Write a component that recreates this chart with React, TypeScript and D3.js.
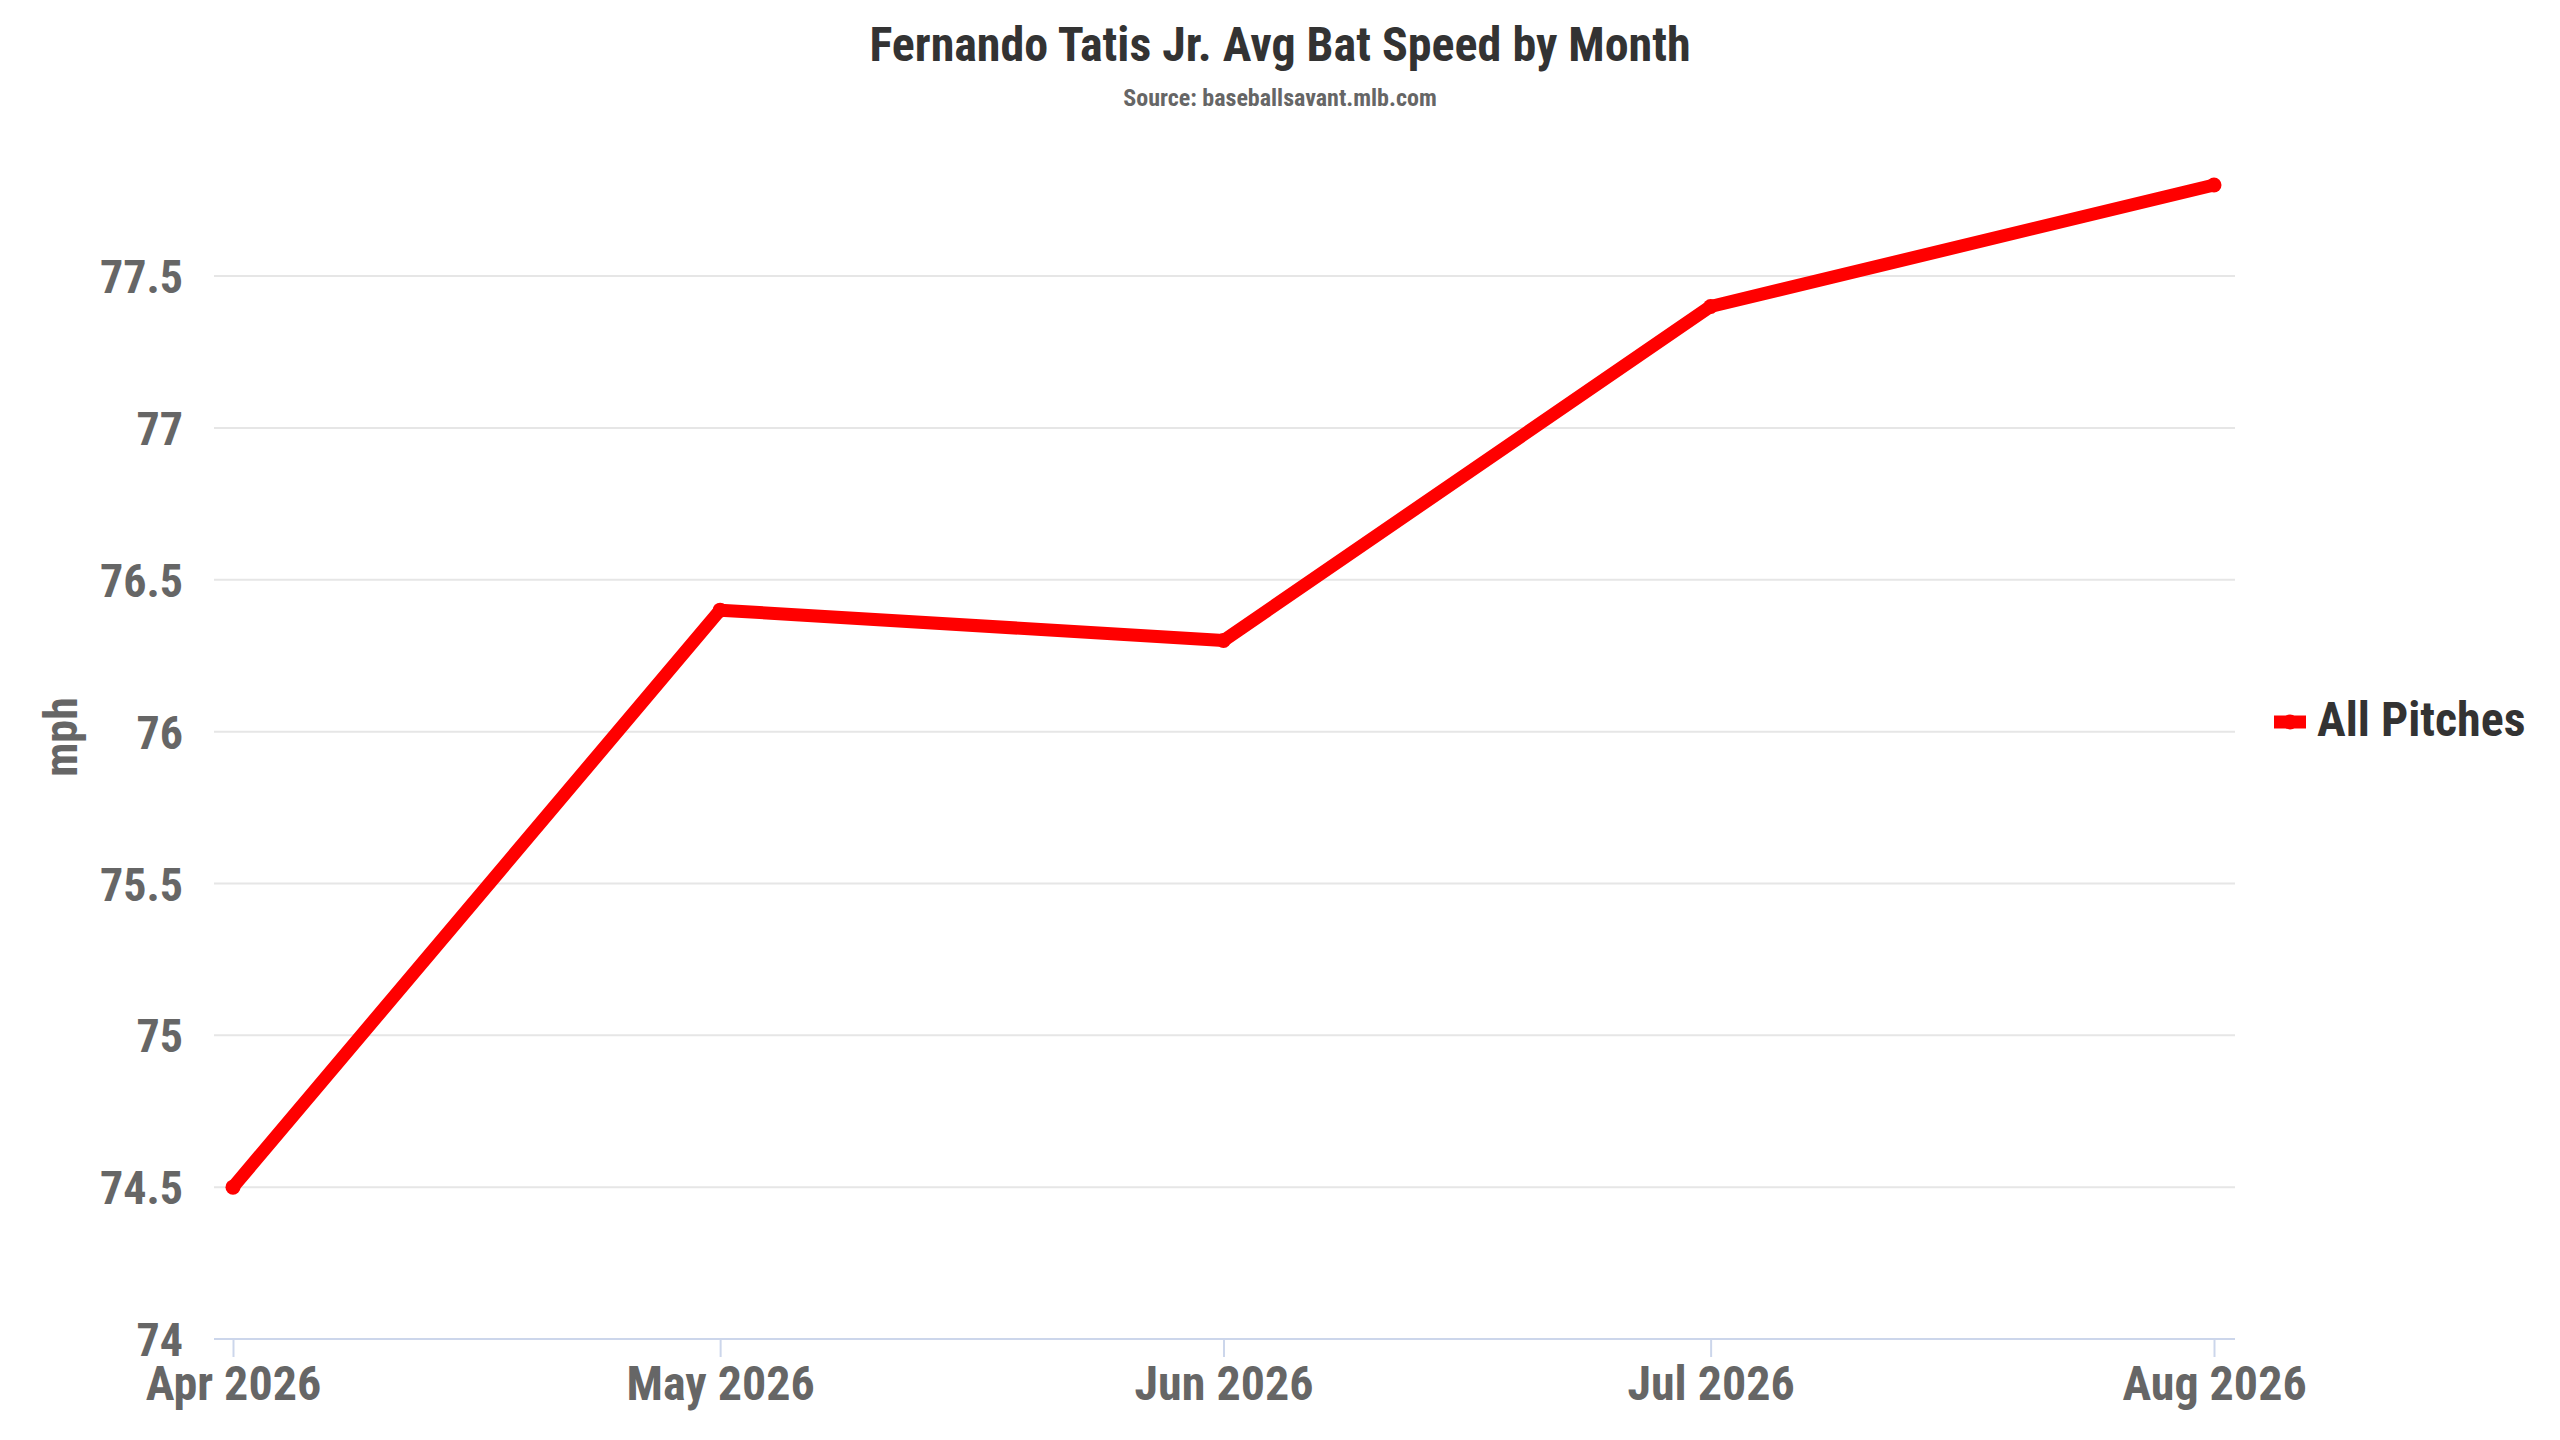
import React, { useEffect, useRef } from "react";
import * as d3 from "d3";

// chart values
const months = ["2026-04-01", "2026-05-01", "2026-06-01", "2026-07-01", "2026-08-01"];
const monthLabels = ["Apr 2026", "May 2026", "Jun 2026", "Jul 2026", "Aug 2026"];
const batSpeed = [74.5, 76.4, 76.3, 77.4, 77.8];
const yTicks = [74, 74.5, 75, 75.5, 76, 76.5, 77, 77.5];
const seriesName = "All Pitches";

const FONT = "'Roboto Condensed', 'Liberation Sans Narrow', 'DejaVu Sans Condensed', Roboto, sans-serif";

export default function App() {
  const svgRef = useRef(null);

  useEffect(() => {
    const W = 2560;
    const H = 1440;
    const plot = { left: 214, right: 2235, top: 185, bottom: 1339 };

    const svg = d3.select(svgRef.current)
      .attr("width", W)
      .attr("height", H)
      .style("font-family", FONT);

    const dates = months.map((m) => d3.utcParse("%Y-%m-%d")(m));
    const data = dates.map((d, i) => ({ date: d, value: batSpeed[i] }));

    // time scale so month spacing follows day counts
    const xScale = d3.scaleUtc()
      .domain(d3.extent(dates))
      .range([233, 2214]);

    const yScale = d3.scaleLinear()
      .domain([74, 77.8])
      .range([plot.bottom, plot.top]);

    // horizontal grid lines
    svg.append("g")
      .selectAll("line")
      .data(yTicks.filter((t) => t !== 74))
      .join("line")
      .attr("x1", plot.left)
      .attr("x2", plot.right)
      .attr("y1", (d) => yScale(d))
      .attr("y2", (d) => yScale(d))
      .attr("stroke", "#e6e6e6")
      .attr("stroke-width", 2);

    // y axis labels
    const yAxis = svg.append("g")
      .attr("transform", `translate(${plot.left},0)`)
      .call(d3.axisLeft(yScale).tickValues(yTicks).tickSize(0).tickPadding(31).tickFormat((d) => String(d)));
    yAxis.select(".domain").remove();
    yAxis.selectAll("text")
      .attr("dy", "0.36em")
      .style("font-family", FONT)
      .style("font-size", "46px")
      .style("font-weight", "bold")
      .attr("fill", "#666666");

    // x axis
    const xAxis = svg.append("g")
      .attr("transform", `translate(0,${plot.bottom})`)
      .call(
        d3.axisBottom(xScale)
          .tickValues(dates)
          .tickSize(18)
          .tickPadding(9)
          .tickFormat((d, i) => monthLabels[i])
      );
    xAxis.select(".domain")
      .attr("d", `M${plot.left},0H${plot.right}`)
      .attr("stroke", "#ccd6eb")
      .attr("stroke-width", 2);
    xAxis.selectAll(".tick line")
      .attr("stroke", "#ccd6eb")
      .attr("stroke-width", 2);
    xAxis.selectAll("text")
      .style("font-family", FONT)
      .style("font-size", "48px")
      .style("font-weight", "bold")
      .attr("fill", "#666666");

    // the line
    const line = d3.line()
      .x((d) => xScale(d.date))
      .y((d) => yScale(d.value));

    svg.append("path")
      .datum(data)
      .attr("d", line)
      .attr("fill", "none")
      .attr("stroke", "#ff0000")
      .attr("stroke-width", 13)
      .attr("stroke-linejoin", "round")
      .attr("stroke-linecap", "round");

    svg.append("g")
      .selectAll("circle")
      .data(data)
      .join("circle")
      .attr("cx", (d) => xScale(d.date))
      .attr("cy", (d) => yScale(d.value))
      .attr("r", 7.5)
      .attr("fill", "#ff0000");

    // axis title
    svg.append("text")
      .attr("transform", "translate(77,737) rotate(-90)")
      .attr("text-anchor", "middle")
      .style("font-size", "46px")
      .style("font-weight", "bold")
      .attr("fill", "#666666")
      .text("mph");

    // titles
    svg.append("text")
      .attr("x", W / 2)
      .attr("y", 61)
      .attr("text-anchor", "middle")
      .style("font-size", "48px")
      .style("font-weight", "bold")
      .attr("fill", "#333333")
      .text("Fernando Tatis Jr. Avg Bat Speed by Month");

    svg.append("text")
      .attr("x", W / 2)
      .attr("y", 106)
      .attr("text-anchor", "middle")
      .style("font-size", "24px")
      .style("font-weight", "bold")
      .attr("fill", "#666666")
      .text("Source: baseballsavant.mlb.com");

    // legend
    const legend = svg.append("g").attr("transform", "translate(2274,722)");
    legend.append("line")
      .attr("x1", 0)
      .attr("x2", 32)
      .attr("stroke", "#ff0000")
      .attr("stroke-width", 13);
    legend.append("circle")
      .attr("cx", 16)
      .attr("r", 7.5)
      .attr("fill", "#ff0000");
    legend.append("text")
      .attr("x", 43)
      .attr("y", 14)
      .style("font-size", "48px")
      .style("font-weight", "bold")
      .attr("fill", "#333333")
      .text(seriesName);

    return () => {
      d3.select(svgRef.current).selectAll("*").remove();
    };
  }, []);

  return (
    <div style={{ position: "absolute", left: 0, top: 0, background: "#ffffff" }}>
      <svg ref={svgRef}></svg>
    </div>
  );
}
